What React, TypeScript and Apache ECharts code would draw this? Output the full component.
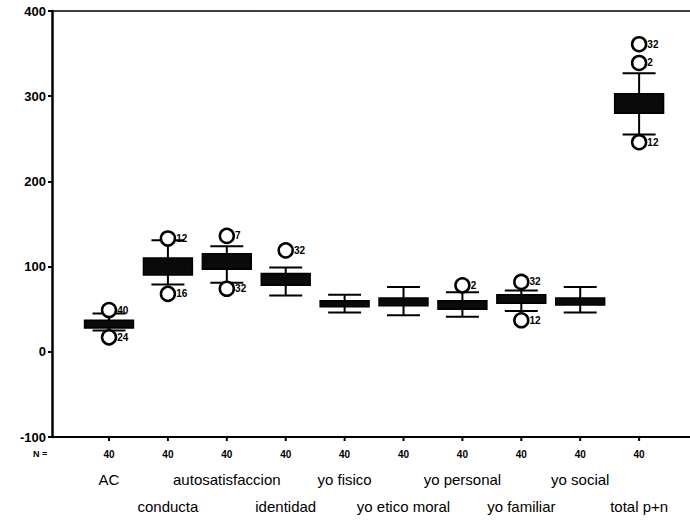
import React, { useEffect, useRef } from "react";
import * as echarts from "echarts";

// ---- data ----
const categories = [
  "AC",
  "conducta",
  "autosatisfaccion",
  "identidad",
  "yo fisico",
  "yo etico moral",
  "yo personal",
  "yo familiar",
  "yo social",
  "total p+n",
];
const nCounts = [40, 40, 40, 40, 40, 40, 40, 40, 40, 40];
const whiskerLow = [25, 79, 81, 66, 46, 43, 41, 48, 46, 255];
const q1 = [28, 90, 97, 78, 53, 54, 50, 57, 55, 280];
const median = [32, 100, 106, 86, 56, 58, 55, 62, 59, 292];
const q3 = [37, 110, 115, 92, 60, 63, 60, 67, 63, 303];
const whiskerHigh = [45, 131, 124, 99, 67, 76, 70, 72, 76, 327];

const outlierCategory = [0, 0, 1, 1, 2, 2, 3, 6, 7, 7, 9, 9, 9];
const outlierValue = [49, 17, 133, 68, 136, 74, 119, 78, 82, 37, 361, 339, 246];
const outlierCase = ["40", "24", "12", "16", "7", "32", "32", "2", "32", "12", "32", "2", "12"];

const yMin = -100;
const yMax = 400;
const yInterval = 100;

const FONT = "Liberation Sans, Arial, sans-serif";

export default function App() {
  const ref = useRef<HTMLDivElement>(null);

  useEffect(() => {
    if (!ref.current) return;
    const chart = echarts.init(ref.current, null, { renderer: "svg" });

    const X_MIN = -0.968;
    const X_MAX = 9.864;

    const boxData = categories.map((_, i) => [
      i,
      whiskerLow[i],
      q1[i],
      median[i],
      q3[i],
      whiskerHigh[i],
    ]);
    const labelData = categories.map((_, i) => [i, yMin, nCounts[i]]);
    const outlierData = outlierValue.map((v, k) => ({
      value: [outlierCategory[k], v],
      name: outlierCase[k],
    }));

    const lineStyle = { stroke: "#000", lineWidth: 2 };

    chart.setOption({
      animation: false,
      backgroundColor: "#fff",
      grid: { left: 52, right: 0, top: 11, height: 426 },
      xAxis: [
        {
          type: "value",
          position: "bottom",
          min: X_MIN,
          max: X_MAX,
          axisLine: { show: true, onZero: false, lineStyle: { color: "#000", width: 2 } },
          axisTick: { show: false },
          axisLabel: { show: false },
          splitLine: { show: false },
        },
        {
          type: "value",
          position: "top",
          min: X_MIN,
          max: X_MAX,
          axisLine: { show: true, onZero: false, lineStyle: { color: "#000", width: 1.5 } },
          axisTick: { show: false },
          axisLabel: { show: false },
          splitLine: { show: false },
        },
      ],
      yAxis: {
        type: "value",
        min: yMin,
        max: yMax,
        interval: yInterval,
        axisLine: { show: true, onZero: false, lineStyle: { color: "#000", width: 2.5 } },
        axisTick: { show: true, length: 4, lineStyle: { color: "#000", width: 2 } },
        axisLabel: {
          color: "#000",
          fontFamily: FONT,
          fontSize: 13,
          fontWeight: "bold",
          margin: 6,
        },
        splitLine: { show: false },
      },
      graphic: [
        {
          type: "text",
          left: 33,
          top: 449,
          style: {
            text: "N =",
            fontFamily: FONT,
            fontSize: 9,
            fontWeight: "bold",
            fill: "#000",
          },
        },
      ],
      series: [
        {
          type: "custom",
          name: "boxes",
          xAxisIndex: 0,
          data: boxData,
          z: 2,
          renderItem: (params: any, api: any) => {
            const i = api.value(0);
            const bw = api.size([1, 0])[0];
            const boxW = bw * 0.83;
            const capW = bw * 0.56;
            const pLow = api.coord([i, api.value(1)]);
            const pQ1 = api.coord([i, api.value(2)]);
            const pMed = api.coord([i, api.value(3)]);
            const pQ3 = api.coord([i, api.value(4)]);
            const pHigh = api.coord([i, api.value(5)]);
            const cx = pLow[0];
            return {
              type: "group",
              children: [
                { type: "line", shape: { x1: cx, y1: pHigh[1], x2: cx, y2: pQ3[1] }, style: lineStyle },
                { type: "line", shape: { x1: cx, y1: pQ1[1], x2: cx, y2: pLow[1] }, style: lineStyle },
                {
                  type: "line",
                  shape: { x1: cx - capW / 2, y1: pHigh[1], x2: cx + capW / 2, y2: pHigh[1] },
                  style: lineStyle,
                },
                {
                  type: "line",
                  shape: { x1: cx - capW / 2, y1: pLow[1], x2: cx + capW / 2, y2: pLow[1] },
                  style: lineStyle,
                },
                {
                  type: "rect",
                  shape: { x: cx - boxW / 2, y: pQ3[1], width: boxW, height: pQ1[1] - pQ3[1] },
                  style: { fill: "#0a0a0a", stroke: "#000", lineWidth: 1.5 },
                },
                {
                  type: "line",
                  shape: { x1: cx - boxW / 2, y1: pMed[1], x2: cx + boxW / 2, y2: pMed[1] },
                  style: { stroke: "#0a0a0a", lineWidth: 1 },
                },
              ],
            };
          },
        },
        {
          type: "custom",
          name: "labels",
          xAxisIndex: 0,
          data: labelData,
          z: 3,
          clip: false,
          renderItem: (params: any, api: any) => {
            const i = api.value(0);
            const p = api.coord([i, api.value(1)]);
            const cx = p[0];
            const base = p[1];
            const row = i % 2 === 0 ? 479 : 506;
            return {
              type: "group",
              children: [
                {
                  type: "line",
                  shape: { x1: cx, y1: base, x2: cx, y2: base + 4 },
                  style: { stroke: "#000", lineWidth: 2 },
                },
                {
                  type: "text",
                  x: cx,
                  y: base + 17,
                  style: {
                    text: String(api.value(2)),
                    fontFamily: FONT,
                    fontSize: 10,
                    fontWeight: "bold",
                    fill: "#000",
                    align: "center",
                    verticalAlign: "middle",
                  },
                },
                {
                  type: "text",
                  x: cx,
                  y: row,
                  style: {
                    text: categories[i],
                    fontFamily: FONT,
                    fontSize: 15,
                    fill: "#000",
                    align: "center",
                    verticalAlign: "middle",
                  },
                },
              ],
            };
          },
        },
        {
          type: "scatter",
          name: "outliers",
          xAxisIndex: 0,
          data: outlierData,
          z: 5,
          symbol: "circle",
          symbolSize: 14,
          itemStyle: { color: "#fff", borderColor: "#000", borderWidth: 2.5, opacity: 1 },
          label: {
            show: true,
            position: "right",
            distance: 0,
            formatter: "{b}",
            fontFamily: FONT,
            fontSize: 10,
            fontWeight: "bold",
            color: "#000",
          },
        },
      ],
    });

    return () => chart.dispose();
  }, []);

  return (
    <div
      ref={ref}
      style={{ position: "fixed", left: 0, top: 0, width: 690, height: 522 }}
    />
  );
}
